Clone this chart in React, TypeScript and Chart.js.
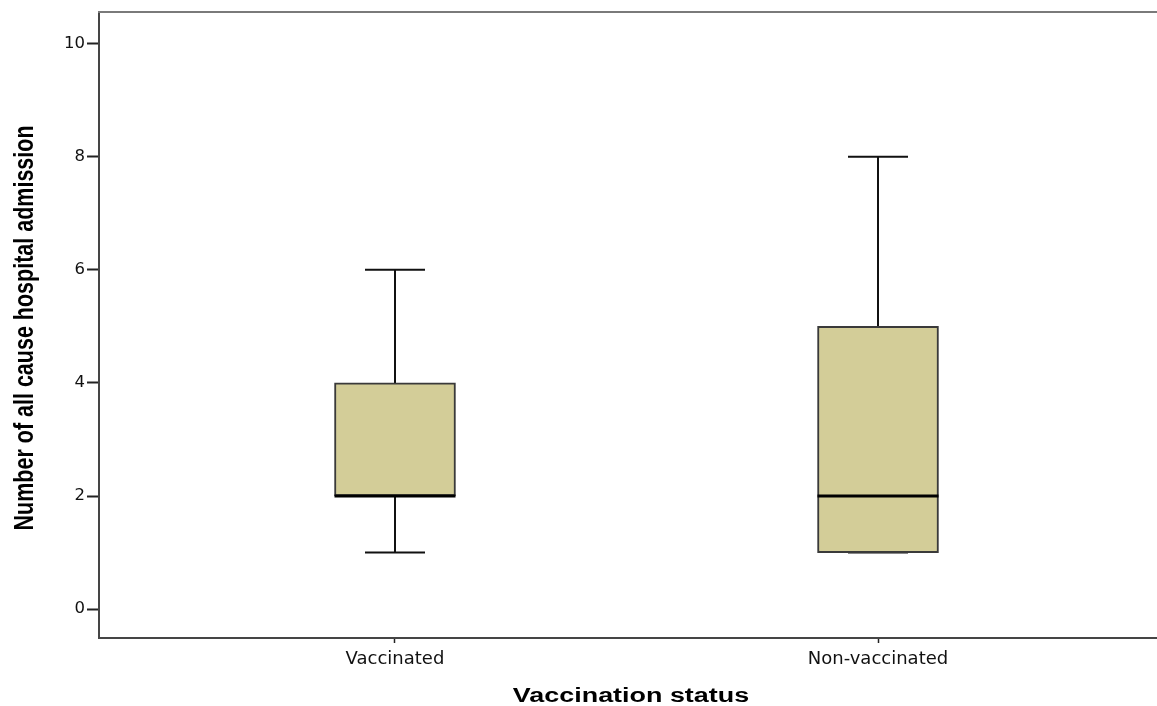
import React, { useEffect, useRef } from "react";
import { Chart, registerables } from "chart.js";

Chart.register(...registerables);

const categories = ["Vaccinated", "Non-vaccinated"];
const categoryPositions = [1, 2];
const whiskerLow = [1, 1];
const q1 = [2, 1];
const median = [2, 2];
const q3 = [4, 5];
const whiskerHigh = [6, 8];
const yTicks = [0, 2, 4, 6, 8, 10];
const xTitle = "Vaccination status";
const yTitle = "Number of all cause hospital admission";

const BOX_FILL = "#d3cd98";
const BOX_WIDTH = 121;
const CAP_WIDTH = 60;

const boxPlotPlugin = {
  id: "boxPlotParts",
  beforeDatasetsDraw(chart: any) {
    const ctx = chart.ctx;
    const xs = chart.scales.x;
    const ys = chart.scales.y;
    ctx.save();
    ctx.strokeStyle = "#111";
    ctx.lineWidth = 2;
    categoryPositions.forEach((pos, i) => {
      const px = Math.round(xs.getPixelForValue(pos));
      const yLo = ys.getPixelForValue(whiskerLow[i]);
      const yQ1 = ys.getPixelForValue(q1[i]);
      const yQ3 = ys.getPixelForValue(q3[i]);
      const yHi = ys.getPixelForValue(whiskerHigh[i]);
      ctx.beginPath();
      ctx.moveTo(px, yQ3);
      ctx.lineTo(px, yHi);
      ctx.moveTo(px - CAP_WIDTH / 2, yHi);
      ctx.lineTo(px + CAP_WIDTH / 2, yHi);
      ctx.moveTo(px, yQ1);
      ctx.lineTo(px, yLo);
      ctx.moveTo(px - CAP_WIDTH / 2, yLo);
      ctx.lineTo(px + CAP_WIDTH / 2, yLo);
      ctx.stroke();
    });
    ctx.restore();
  },
  afterDatasetsDraw(chart: any) {
    const ctx = chart.ctx;
    const xs = chart.scales.x;
    const ys = chart.scales.y;
    ctx.save();
    ctx.strokeStyle = "#000";
    ctx.lineWidth = 3;
    categoryPositions.forEach((pos, i) => {
      const px = Math.round(xs.getPixelForValue(pos));
      const ym = ys.getPixelForValue(median[i]);
      ctx.beginPath();
      ctx.moveTo(px - BOX_WIDTH / 2, ym);
      ctx.lineTo(px + BOX_WIDTH / 2, ym);
      ctx.stroke();
    });
    ctx.restore();
  },
  afterDraw(chart: any) {
    const ctx = chart.ctx;
    const area = chart.chartArea;
    ctx.save();
    // top frame line
    ctx.strokeStyle = "#7a7a7a";
    ctx.lineWidth = 2;
    ctx.beginPath();
    ctx.moveTo(area.left - 1, area.top);
    ctx.lineTo(area.right, area.top);
    ctx.stroke();

    // x axis title (horizontally stretched bold sans)
    ctx.fillStyle = "#000";
    ctx.font = "bold 19.5px 'Liberation Sans', Arial, sans-serif";
    ctx.textAlign = "center";
    ctx.textBaseline = "alphabetic";
    ctx.save();
    ctx.translate((area.left + area.right) / 2 + 3, 702);
    ctx.scale(1.38, 1);
    ctx.fillText(xTitle, 0, 0);
    ctx.restore();

    // y axis title (rotated, glyphs stretched across)
    ctx.save();
    ctx.translate(25, (area.top + area.bottom) / 2 + 3);
    ctx.rotate(-Math.PI / 2);
    ctx.scale(1, 1.3);
    ctx.font = "bold 21.5px 'Liberation Sans', Arial, sans-serif";
    ctx.textAlign = "center";
    ctx.textBaseline = "middle";
    ctx.fillText(yTitle, 0, 0);
    ctx.restore();
    ctx.restore();
  },
};

export default function App() {
  const canvasRef = useRef<HTMLCanvasElement | null>(null);

  useEffect(() => {
    if (!canvasRef.current) return;
    const chart = new Chart(canvasRef.current, {
      type: "bar",
      data: {
        datasets: [
          {
            label: "Box",
            data: categoryPositions.map((x, i) => ({ x, y: [q1[i], q3[i]] })) as any,
            backgroundColor: BOX_FILL,
            borderColor: "#3a3a3a",
            borderWidth: 2,
            borderSkipped: false,
            barThickness: BOX_WIDTH,
          },
        ],
      },
      options: {
        animation: false,
        responsive: true,
        maintainAspectRatio: false,
        layout: { padding: { top: 10, left: 0, right: 0, bottom: 0 } },
        plugins: {
          legend: { display: false },
          tooltip: { enabled: false },
        },
        scales: {
          x: {
            type: "linear",
            offset: false,
            min: 0.3872,
            max: 2.5776,
            afterBuildTicks: (scale: any) => {
              scale.ticks = categoryPositions.map((v) => ({ value: v }));
            },
            afterFit: (scale: any) => {
              scale.height = 68;
            },
            ticks: {
              callback: (_v: any, idx: number) => categories[idx],
              color: "#111",
              font: { family: "'DejaVu Sans', sans-serif", size: 18 },
              padding: 6,
              maxRotation: 0,
              autoSkip: false,
            },
            grid: {
              display: true,
              offset: false,
              drawOnChartArea: false,
              drawTicks: true,
              tickLength: 5,
              tickWidth: 1.5,
              tickColor: "#222",
            },
            border: { display: true, color: "#454545", width: 2 },
          },
          y: {
            type: "linear",
            min: -0.51,
            max: 10.56,
            afterBuildTicks: (scale: any) => {
              scale.ticks = yTicks.map((v) => ({ value: v }));
            },
            afterFit: (scale: any) => {
              scale.width = 99;
            },
            ticks: {
              color: "#111",
              font: { family: "'DejaVu Sans', sans-serif", size: 16.5 },
              padding: 2,
            },
            grid: {
              display: true,
              drawOnChartArea: false,
              drawTicks: true,
              tickLength: 12,
              tickWidth: 2,
              tickColor: "#222",
            },
            border: { display: true, color: "#454545", width: 2 },
          },
        },
      },
      plugins: [boxPlotPlugin],
    });
    return () => chart.destroy();
  }, []);

  return (
    <div
      style={{
        position: "fixed",
        left: 0,
        top: 0,
        width: 1157,
        height: 706,
        background: "#fff",
      }}
    >
      <canvas ref={canvasRef} />
    </div>
  );
}
